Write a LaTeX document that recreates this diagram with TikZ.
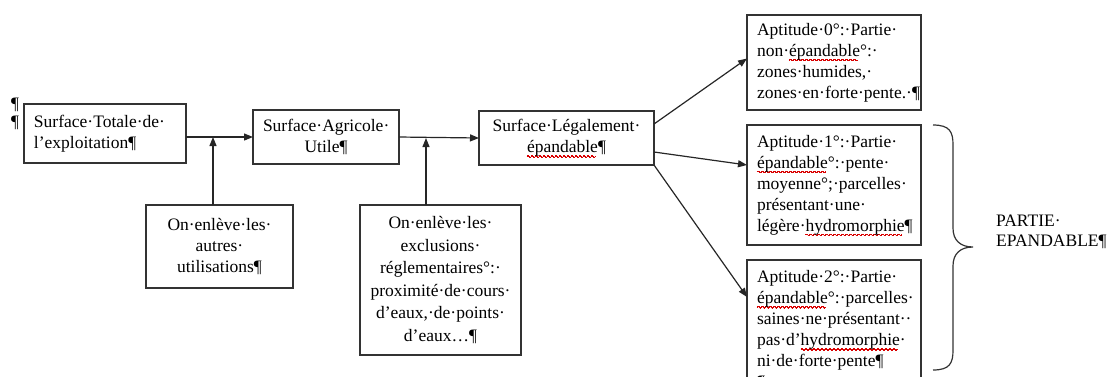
\documentclass[tikz,border=0pt]{standalone}
\usepackage{fontspec}
\setmainfont{Liberation Serif}
\usetikzlibrary{arrows.meta}
\newcommand\vague{\setlength\unitlength{1pt}\begin{picture}(4,0)\qbezier(0,0)(1,1.6)(2,0)\qbezier(2,0)(3,-1.6)(4,0)\end{picture}}
\newcommand\ondule[1]{\leavevmode\setbox0\hbox{#1}\rlap{\color{red!85!black}\lower3.5pt\hbox to \wd0{\leaders\hbox{\vague}\hfill}}\box0}
\begin{document}
\begin{tikzpicture}[x=1pt, y=-1pt,
    boite/.style={draw=black!80, line width=1.2pt, rectangle, anchor=north west,
        inner xsep=10pt, inner ysep=0pt, outer sep=0pt,
        font=\fontsize{17.5}{21}\selectfont},
    fleche/.style={draw=black!85, line width=1.2pt, -{Triangle[length=9pt,width=7pt]}}]
    \useasboundingbox (0,0) rectangle (1114,376);
    \clip (0,0) rectangle (1114,376);
    \draw (15,105) node[font=\fontsize{17.5}{22}\selectfont](pilA){¶};
    \draw (15,123) node[font=\fontsize{17.5}{22}\selectfont](pilB){¶};
    \node[boite, text width=142, minimum width=162, minimum height=59, align=left] (totale) at (24,104) {
        Surface·Totale·de· \\
        l’exploitation¶
    };
    \node[boite, text width=126, minimum width=146, minimum height=54, align=center] (agricole) at (253,110) {
        Surface·Agricole· \\
        Utile¶
    };
    \node[boite, text width=155, minimum width=175, minimum height=54, align=center] (legal) at (479,111) {
        Surface·Légalement· \\
        \ondule{épandable}¶
    };
    \node[boite, text width=154, minimum width=174, minimum height=95, align=left] (apt0) at (747,15) {
        Aptitude·0°:·Partie· \\
        non·\ondule{épandable}°:· \\
        zones·humides,· \\
        zones·en·forte·pente.·¶
    };
    \node[boite, text width=154, minimum width=174, minimum height=120, align=left] (apt1) at (747,125) {
        Aptitude·1°:·Partie· \\
        \ondule{épandable}°:·pente· \\
        moyenne°;·parcelles· \\
        présentant·une· \\
        légère·\ondule{hydromorphie}¶
    };
    \node[boite, text width=154, minimum width=174, minimum height=140, align=left] (apt2) at (747,260) {
        Aptitude·2°:·Partie· \\
        \ondule{épandable}°:·parcelles· \\
        saines·ne·présentant·· \\
        pas·d’\ondule{hydromorphie}· \\
        ni·de·forte·pente¶ \\
        ¶
    };
    \node[boite, text width=127, minimum width=147, minimum height=83, align=center] (autres) at (146,205) {
        On·enlève·les· \\
        autres· \\
        utilisations¶
    };
    \node[boite, text width=141, minimum width=161, minimum height=150, align=center, font=\fontsize{17.5}{22.5}\selectfont] (exclusions) at (360,205) {
        On·enlève·les· \\
        exclusions· \\
        réglementaires°:· \\
        proximité·de·cours· \\
        d’eaux,·de·points· \\
        d’eaux…¶
    };
    \node[anchor=west, align=left, inner sep=0pt, font=\fontsize{17.5}{20}\selectfont] (partie) at (996,232) {
        PARTIE· \\
        EPANDABLE¶
    };
    \draw[fleche] (totale.east |- agricole.west) -- (agricole.west);
    \draw[fleche] (agricole.east) -- (legal.west);
    \draw[fleche] ([xshift=-6.5pt]autres.north) -- ([xshift=-6.5pt]autres.north |- agricole.west);
    \draw[fleche] ([xshift=-14.5pt]exclusions.north) -- ([xshift=-14.5pt]exclusions.north |- legal.west);
    \draw[fleche] ([yshift=-13pt]legal.north east) -- ([yshift=4pt]apt0.west);
    \draw[fleche] ([yshift=13pt]legal.south east) -- ([yshift=20pt]apt1.west);
    \draw[fleche] (legal.south east) -- ([yshift=-37pt]apt2.north west);
    % accolade
    \draw[black!80, line width=1.2pt] (933,125) .. controls (950,125) and (953,132) .. (953,145)
        -- (953,228) .. controls (953,240) and (960,247) .. (973,247)
        .. controls (960,247) and (953,254) .. (953,266)
        -- (953,350) .. controls (953,363) and (950,370) .. (933,370);
\end{tikzpicture}
\end{document}
